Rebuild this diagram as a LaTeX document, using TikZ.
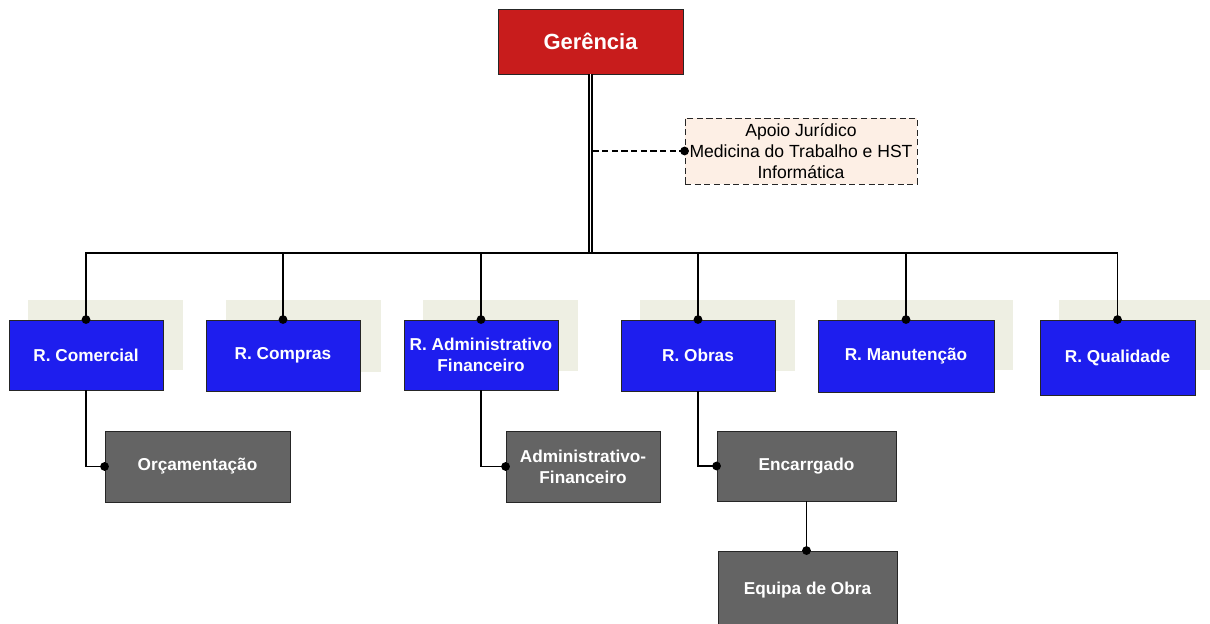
\documentclass[tikz,border=0pt]{standalone}
\usepackage{fontspec}
\setmainfont{Liberation Sans}
\usetikzlibrary{calc}
\definecolor{vermelho}{HTML}{C81C1C}
\definecolor{azul}{HTML}{1E1EEE}
\definecolor{cinza}{HTML}{646464}
\definecolor{sombra}{HTML}{EEEFE3}
\definecolor{pessego}{HTML}{FDEFE5}

\tikzset{
  caixa/.style={draw=black!85, line width=0.5pt, text=white, align=center,
    font=\fontsize{9.8}{12}\selectfont\bfseries, inner sep=0pt},
  resp/.style={caixa, fill=azul},
  sub/.style={caixa, fill=cinza},
  ponto/.style={circle, fill=black, inner sep=0pt, minimum size=5pt},
  ligacao/.style={draw=black, line width=0.75pt}
}

\begin{document}
\begin{tikzpicture}[x=0.02cm, y=-0.02cm]
  \clip (0,0) rectangle (1210,624);
  \fill[white] (0,0) rectangle (1210,624);

  % Sombras.
  \fill[sombra] (28,300) rectangle (183,370);
  \fill[sombra] (226,300) rectangle (381,372);
  \fill[sombra] (423,300) rectangle (578,371);
  \fill[sombra] (640,300) rectangle (795,371);
  \fill[sombra] (837,300) rectangle (1013,370);
  \fill[sombra] (1059,300) rectangle (1215,370);

  % Topo.
  \node[caixa, fill=vermelho, minimum width=185*0.02cm, minimum height=65*0.02cm,
    font=\fontsize{12.5}{14}\selectfont\bfseries] at (590.5,41.5) (gerencia) {Gerência};
  \node[draw=black!85, dash pattern=on 3.5pt off 2pt, fill=pessego, line width=0.5pt, align=center, inner sep=0pt,
    minimum width=232*0.02cm, minimum height=66*0.02cm,
    font=\fontsize{10}{11.9}\selectfont] at (801,151) (apoio)
    {Apoio Jurídico\\Medicina do Trabalho e HST\\Informática};

  % Responsáveis.
  \node[resp, minimum width=154*0.02cm, minimum height=70*0.02cm] at (86,355) (comercial) {R. Comercial};
  \node[resp, minimum width=154*0.02cm, minimum height=71*0.02cm] at (283,355.5) (compras) {R. Compras};
  \node[resp, minimum width=154*0.02cm, minimum height=70*0.02cm] at (481,355) (admfin) {R. Administrativo\\Financeiro};
  \node[resp, minimum width=154*0.02cm, minimum height=71*0.02cm] at (698,355.5) (obras) {R. Obras};
  \node[resp, minimum width=176*0.02cm, minimum height=72*0.02cm] at (906,356) (manutencao) {R. Manutenção};
  \node[resp, minimum width=155*0.02cm, minimum height=75*0.02cm] at (1117.5,357.5) (qualidade) {R. Qualidade};

  % Subordinados.
  \node[sub, minimum width=185*0.02cm, minimum height=71*0.02cm] at (197.5,466.5) (orcamentacao) {Orçamentação};
  \node[sub, minimum width=154*0.02cm, minimum height=71*0.02cm] at (583,466.5) (admfinsub) {Administrativo-\\Financeiro};
  \node[sub, minimum width=179*0.02cm, minimum height=70*0.02cm] at (806.5,466) (encarregado) {Encarrgado};
  \node[sub, minimum width=179*0.02cm, minimum height=78*0.02cm] at (807.5,590) (equipa) {Equipa de Obra};

  % Ligações.
  \coordinate (barra) at (590,253);
  \draw[black, line width=0.85pt, double=white, double distance=0.7pt] (gerencia.south) -- (gerencia.south |- barra);
  \draw[ligacao, line width=0.6pt, dash pattern=on 3.5pt off 2pt] ($(gerencia.south |- apoio.west)+(2,0)$) -- (apoio.west);
  \node[ponto] at (apoio.west) {};
  \draw[ligacao] (comercial.north) |- (qualidade.north |- barra) -- (qualidade.north);
  \foreach \n in {compras, admfin, obras, manutencao}
    \draw[ligacao] (\n.north) -- (\n.north |- barra);
  \foreach \n in {comercial, compras, admfin, obras, manutencao, qualidade}
    \node[ponto] at (\n.north) {};
  \draw[ligacao] (comercial.south) |- (orcamentacao.west);
  \draw[ligacao] (admfin.south) |- (admfinsub.west);
  \draw[ligacao] (obras.south) |- (encarregado.west);
  \draw[ligacao] (encarregado.south) -- (encarregado.south |- equipa.north);
  \foreach \n in {orcamentacao.west, admfinsub.west, encarregado.west}
    \node[ponto] at (\n) {};
  \node[ponto] at (encarregado.south |- equipa.north) {};
\end{tikzpicture}
\end{document}
